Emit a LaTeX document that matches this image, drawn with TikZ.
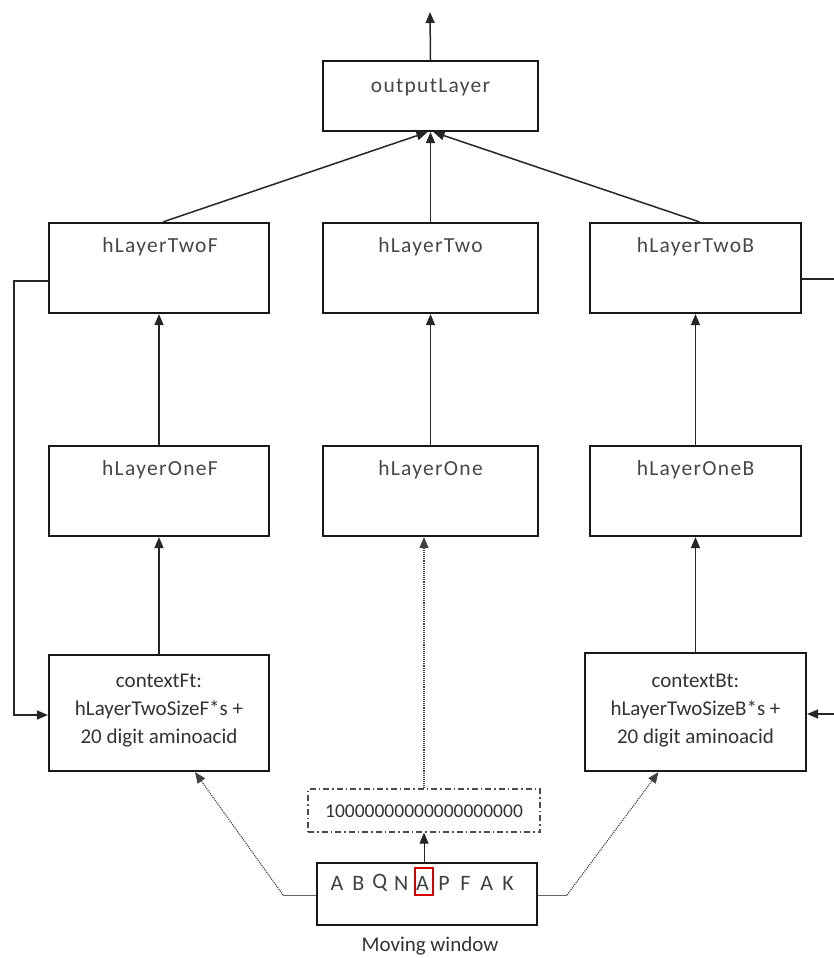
\documentclass[tikz,border=0pt]{standalone}
\usepackage{fontspec}
\setmainfont{Carlito}
\newfontfamily\titlefont[LetterSpace=6]{Carlito}
\usetikzlibrary{arrows.meta}

\begin{document}
\begin{tikzpicture}[x=1pt,y=-1pt,
  box/.style={draw=black!90, line width=2.2pt, inner sep=0pt},
  dotbox/.style={draw=black!70, line width=1.3pt, inner sep=0pt,
    dash pattern=on 6pt off 3pt on 1.5pt off 3pt},
  selbox/.style={draw=red!85!black, line width=1.2pt, inner sep=0pt,
    minimum width=18pt, minimum height=27pt},
  lbl/.style={font=\fontsize{21}{28}\selectfont, text=black!80, inner sep=0pt},
  title/.style={font=\titlefont\fontsize{21.5}{26}\selectfont, text=black!72, inner sep=0pt},
  letter/.style={font=\fontsize{22}{26}\selectfont, text=black!75, inner sep=0pt},
  tip/.style={-{Triangle[length=11pt,width=9pt]}},
  conn/.style={draw=black!85, line width=1.5pt, tip},
  line/.style={draw=black!85, line width=1.5pt},
  thin/.style={draw=black!60, line width=0.9pt},
  dots/.style={draw=black!75, line width=1.1pt, densely dotted, tip},
]
\useasboundingbox (0,0) rectangle (834,958);

% layer boxes
\node[box, minimum width=215pt, minimum height=70pt] (out) at (430.5,96) {};
\node[box, minimum width=220pt, minimum height=90pt] (h2f) at (159,268) {};
\node[box, minimum width=215pt, minimum height=90pt] (h2)  at (430.5,268) {};
\node[box, minimum width=211pt, minimum height=90pt] (h2b) at (695.5,268) {};
\node[box, minimum width=220pt, minimum height=90pt] (h1f) at (159,491) {};
\node[box, minimum width=215pt, minimum height=90pt] (h1)  at (430.5,491) {};
\node[box, minimum width=211pt, minimum height=90pt] (h1b) at (695.5,491) {};
\node[box, minimum width=220pt, minimum height=116pt] (cf) at (159,713) {};
\node[box, minimum width=221pt, minimum height=118pt] (cb) at (695.5,712) {};
\node[dotbox, minimum width=232pt, minimum height=43pt] (dz) at (424,810.5) {};
\node[box, line width=1.6pt, minimum width=220pt, minimum height=62pt] (mw) at (427,894) {};

% labels
\node[title] (tOut) at (430.5,87) {outputLayer};
\node[title] (tH2f) at (160,247) {hLayerTwoF};
\node[title] (tH2)  at (430.5,247) {hLayerTwo};
\node[title] (tH2b) at (695.5,247) {hLayerTwoB};
\node[title] (tH1f) at (160,470) {hLayerOneF};
\node[title] (tH1)  at (430.5,470) {hLayerOne};
\node[title] (tH1b) at (695.5,470) {hLayerOneB};
\node[lbl, align=center] (tCf) at (159,711) {contextFt:\\hLayerTwoSizeF*s +\\20 digit aminoacid};
\node[lbl, align=center] (tCb) at (695.5,711) {contextBt:\\hLayerTwoSizeB*s +\\20 digit aminoacid};
\node[lbl, font=\fontsize{19.5}{24}\selectfont] (tDz) at (424,811) {10000000000000000000};
\node[lbl] (tMw) at (430,946) {Moving window};

% sequence in the moving window
\foreach \c [count=\i] in {A,B,Q,N,A,P,F,A,K}
  \node[letter] (s\i) at ({337+21.4*(\i-1)},883) {\c};
\node[selbox] (sel) at (424,881.5) {};

% free ends
\coordinate (top) at (430,12);
\coordinate (fbL1) at (14,281);
\coordinate (fbL2) at (14,715);
\coordinate (fbR1) at (834,279);
\coordinate (fbR2) at (834,714);
\coordinate (mwL) at (283,895);
\coordinate (mwR) at (567,895);

% upward flow
\draw[conn] (out.north) -- (top);
\draw[conn] ([xshift=4pt]h2f.north) -- ([xshift=-3pt]out.south);
\draw[conn] (h2.north) -- (out.south);
\draw[conn] ([xshift=4pt]h2b.north) -- ([xshift=3pt]out.south);
\draw[conn] (h1f.north) -- (h2f.south);
\draw[conn] (h1.north) -- (h2.south);
\draw[conn] (h1b.north) -- (h2b.south);
\draw[conn] (cf.north) -- (h1f.south);
\draw[conn] (cb.north) -- (h1b.south);

% recurrent feedback
\draw[conn] (h2f.west |- fbL1) -- (fbL1) -- (fbL2) -- (cf.west |- fbL2);
\draw[line] (h2b.east |- fbR1) -- (fbR1);
\draw[conn] (fbR2) -- (cb.east |- fbR2);

% window to inputs
\draw[dots] (dz.north -| sel) -- (sel |- h1.south);
\draw[conn, line width=1pt] (mw.north -| sel) -- (dz.south -| sel);
\draw[thin] (mw.west |- mwL) -- (mwL);
\draw[dots] (mwL) -- ([xshift=36pt]cf.south);
\draw[thin] (mw.east |- mwR) -- (mwR);
\draw[dots] (mwR) -- ([xshift=-37pt]cb.south);
\end{tikzpicture}
\end{document}
